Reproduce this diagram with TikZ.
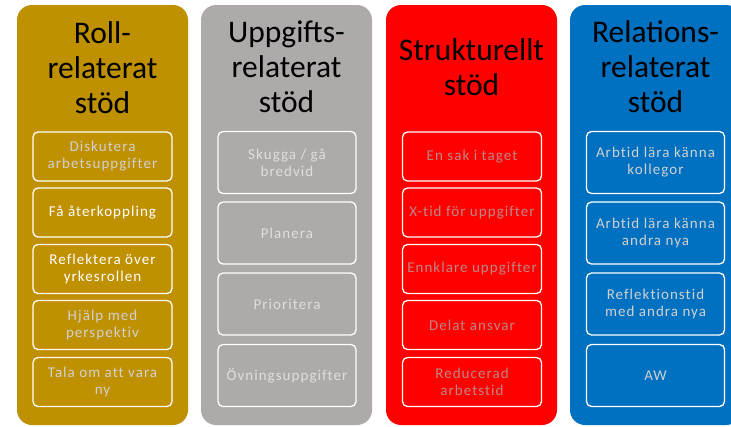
\documentclass[tikz,border=0pt]{standalone}
\usepackage{fontspec}
\setmainfont{Carlito}
\newfontfamily\itemfont[LetterSpace=7,Ligatures=NoCommon]{Carlito}
\definecolor{rollgold}{HTML}{BF9000}
\definecolor{uppgray}{HTML}{AEAAAA}
\definecolor{strukred}{HTML}{FF0000}
\definecolor{relblue}{HTML}{0070C0}
\tikzset{
  colbox/.style={rounded corners=15pt, minimum width=171pt, minimum height=420pt, inner sep=0pt},
  title/.style={align=center, font=\fontsize{31.5}{35}\selectfont, text=black},
  item/.style={draw=white, line width=1.3pt, rounded corners=5pt, minimum width=139pt,
    align=center, inner sep=0pt, font=\itemfont\fontsize{15}{17}\selectfont},
  shortitem/.style={item, minimum height=49pt},
  tallitem/.style={item, minimum height=62pt, minimum width=138pt},
}
\begin{document}
\begin{tikzpicture}[x=1pt,y=-1pt]
  \useasboundingbox (0,0) rectangle (731,426);
  \begin{scope}
    \clip (0,0) rectangle (731,426);
    % columns
    \node[colbox, fill=rollgold] (roll) at (102.5,215) {};
    \node[colbox, fill=uppgray] (upp) at (286.5,215) {};
    \node[colbox, fill=strukred] (struk) at (471.5,215) {};
    \node[colbox, fill=relblue] (rel) at (655.5,215) {};
  \end{scope}
  % titles
  \node[title] (rolltitle) at (102.5,68) {Roll-\\relaterat\\stöd};
  \node[title] (upptitle) at (286.5,67) {Uppgifts-\\relaterat\\stöd};
  \node[title] (struktitle) at (471.5,67) {Strukturellt\\stöd};
  \node[title] (reltitle) at (655.5,67) {Relations-\\relaterat\\stöd};
  % roll-relaterat
  \node[shortitem, text=white!82!black] (roll1) at (102.5,156.5) {Diskutera\\arbetsuppgifter};
  \node[shortitem, text=white] (roll2) at (102.5,212.5) {Få återkoppling};
  \node[shortitem, text=white] (roll3) at (102.5,269) {Reflektera över\\yrkesrollen};
  \node[shortitem, text=white!82!black] (roll4) at (102.5,325) {Hjälp med\\perspektiv};
  \node[shortitem, text=white!82!black] (roll5) at (102.5,382) {Tala om att vara\\ny};
  % uppgiftsrelaterat
  \node[tallitem, text=white!60!uppgray] (upp1) at (287,162.5) {Skugga / gå\\bredvid};
  \node[tallitem, text=white!60!uppgray] (upp2) at (287,233) {Planera};
  \node[tallitem, text=white!60!uppgray] (upp3) at (287,304) {Prioritera};
  \node[tallitem, text=white!60!uppgray] (upp4) at (287,375.5) {Övningsuppgifter};
  % strukturellt
  \node[shortitem, text=white!70!strukred!75!black] (struk1) at (472,156.5) {En sak i taget};
  \node[shortitem, text=white!70!strukred!75!black] (struk2) at (472,212.5) {X-tid för uppgifter};
  \node[shortitem, text=white!70!strukred!75!black] (struk3) at (472,269) {Ennklare uppgifter};
  \node[shortitem, text=white!70!strukred!75!black] (struk4) at (472,325) {Delat ansvar};
  \node[shortitem, text=white!70!strukred!75!black] (struk5) at (472,382) {Reducerad\\arbetstid};
  % relationsrelaterat
  \node[tallitem, text=white!82!black] (rel1) at (655.5,162.5) {Arbtid lära känna\\kollegor};
  \node[tallitem, text=white!82!black] (rel2) at (655.5,233) {Arbtid lära känna\\andra nya};
  \node[tallitem, text=white!82!black] (rel3) at (655.5,304) {Reflektionstid\\med andra nya};
  \node[tallitem, text=white!82!black] (rel4) at (655.5,375.5) {AW};
\end{tikzpicture}
\end{document}
